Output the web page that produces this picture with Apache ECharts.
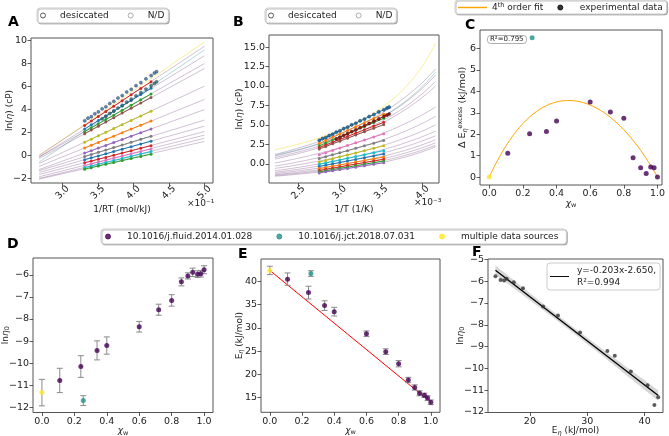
<!DOCTYPE html>
<html><head><meta charset="utf-8">
<script src="https://cdn.jsdelivr.net/npm/echarts@6/dist/echarts.min.js"></script>
<style>html,body{margin:0;padding:0;background:#fff}#c{width:669px;height:436px}</style>
</head><body><div id="c"></div>
<script>
// ================= DATA =================
const mixtureXw     = [0, 0.11, 0.24, 0.255, 0.34, 0.40, 0.60, 0.72, 0.80, 0.86, 0.90, 0.93, 0.96, 0.98, 1.0];
const mixtureSource = ['multi','fluid','fluid','jct','fluid','fluid','fluid','fluid','fluid','fluid','fluid','fluid','fluid','fluid','fluid'];
const lnEta0        = [-11.33, -10.78, -10.15, -11.69, -9.42, -9.20, -8.35, -7.58, -7.16, -6.32, -6.05, -5.89, -5.97, -5.95, -5.77];
const lnEta0Err     = [0.6, 0.55, 0.49, 0.22, 0.43, 0.39, 0.24, 0.25, 0.26, 0.18, 0.14, 0.19, 0.15, 0.15, 0.18];
const eEta          = [42.37, 40.5, 37.6, 41.7, 34.8, 33.5, 28.75, 24.9, 22.3, 18.8, 17.2, 15.95, 15.5, 14.9, 14.0];
const eEtaErr       = [0.9, 1.33, 1.37, 0.61, 1.04, 0.93, 0.61, 0.61, 0.68, 0.57, 0.57, 0.54, 0.47, 0.5, 0.5];

const excessXw      = [0, 0.11, 0.24, 0.255, 0.34, 0.40, 0.60, 0.72, 0.80, 0.855, 0.90, 0.933, 0.96, 0.98, 1.0];
const excessE       = [0, 1.11, 2.02, 6.5, 2.13, 2.62, 3.50, 3.04, 2.74, 0.90, 0.44, 0.17, 0.47, 0.44, 0];
const excessFitCoeffs = [0, 17, -25, 13, -5];   // 4th order polynomial c0..c4
const excessR2Text  = 'R²=0.795';

// measured ln(eta) (cP) at these temperatures (K)
const tempsK = [363.15, 353.15, 343.15, 333.15, 323.15, 313.15, 303.15, 293.15, 283.15];
const lnEtaMeasured = [
  null,
  [2.61, 3.00, 3.40, 3.83, 4.28, 4.76, 5.28, 5.83, 6.40],
  [2.31, 2.67, 3.05, 3.44, 3.86, 4.31, 4.79, 5.30, 5.84],
  null,
  [2.08, 2.41, 2.76, 3.13, 3.51, 3.93, 4.37, 4.84, 5.34],
  [1.90, 2.22, 2.56, 2.91, 3.29, 3.69, 4.11, 4.56, 5.04],
  [1.16, 1.43, 1.72, 2.02, 2.35, 2.69, 3.05, 3.44, 3.85],
  [0.67, 0.90, 1.15, 1.41, 1.69, 1.99, 2.31, 2.64, 3.00],
  [0.22, 0.43, 0.66, 0.89, 1.14, 1.40, 1.69, 1.99, 2.31],
  [-0.07, 0.11, 0.29, 0.49, 0.70, 0.92, 1.16, 1.42, 1.69],
  [-0.35, -0.19, -0.02, 0.16, 0.36, 0.56, 0.78, 1.01, 1.26],
  [-0.62, -0.47, -0.31, -0.15, 0.03, 0.22, 0.42, 0.64, 0.87],
  [-0.86, -0.71, -0.56, -0.40, -0.22, -0.04, 0.16, 0.36, 0.58],
  [-1.04, -0.90, -0.75, -0.59, -0.43, -0.25, -0.06, 0.14, 0.35],
  [-1.17, -1.04, -0.90, -0.75, -0.60, -0.43, -0.25, -0.07, 0.13]
];
// densely sampled data sets (mixture 0 and mixture 3)
const tempsDense0   = [363, 358, 353, 348, 343, 338, 333, 328, 323, 318, 313, 308, 303, 298, 293, 288, 283, 280, 278];
const lnEtaDense0   = [3.02, 3.25, 3.38, 3.63, 3.80, 4.06, 4.24, 4.52, 4.71, 5.00, 5.21, 5.52, 5.75, 6.07, 6.33, 6.66, 6.94, 7.16, 7.28];
const tempsDense3   = [338, 333, 328, 323, 318, 313, 308, 303, 298, 293, 288, 283, 280, 278];
const lnEtaDense3   = [3.20, 3.41, 3.66, 3.88, 4.13, 4.37, 4.64, 4.90, 5.19, 5.47, 5.77, 6.08, 6.26, 6.40];

// VFT fit curves (panel B): ln(eta) read at the hot and cold ends of the curves
const fitTempHot  = 450.5, fitTempCold = 240.5, fitTempMid = 323;
const vftLnEtaHot  = [1.8, 1.2, 1.0, 1.1, 0.8, 0.6, 0.1, -0.3, -0.6, -0.9, -1.1, -1.25, -1.4, -1.5, -1.6];
const vftLnEtaCold = [15.5, 12.2, 11.4, 11.8, 10.6, 10.0, 7.3, 6.1, 5.0, 4.2, 3.6, 3.1, 2.7, 2.4, 2.2];

// panel F regression
const fitSlopeF = -0.203, fitInterceptF = -2.650, fitR2F = '0.994';

// tick labels
const ticksAx = [0.30, 0.35, 0.40, 0.45, 0.50];
const ticksAy = [-2, 0, 2, 4, 6, 8, 10];
const ticksBx = [0.0025, 0.0030, 0.0035, 0.0040];
const ticksBy = [-2.5, 0, 2.5, 5, 7.5, 10, 12.5, 15];
const ticksCx = [0, 0.2, 0.4, 0.6, 0.8, 1.0];
const ticksCy = [0, 1, 2, 3, 4, 5, 6];
const ticksDx = [0, 0.2, 0.4, 0.6, 0.8, 1.0];
const ticksDy = [-12, -11, -10, -9, -8, -7, -6];
const ticksEy = [15, 20, 25, 30, 35, 40];
const ticksFx = [20, 30, 40];
const ticksFy = [-12, -11, -10, -9, -8, -7, -6, -5];

const sourceNames = {fluid:'10.1016/j.fluid.2014.01.028', jct:'10.1016/j.jct.2018.07.031', multi:'multiple data sources'};

// ================= STYLE =================
const R = 0.008314;
const FONT = 'DejaVu Sans';
const srcColor = {fluid:'#440154', jct:'#21918c', multi:'#fde725'};
const thinColor = {fluid:'rgba(68,1,84,0.28)', jct:'rgba(33,145,140,0.38)', multi:'rgba(240,220,30,0.5)'};
const colorsA = ['#2f6ea8','#d62728','#1f77b4','#236f80','#2ca02c','#8c564b','#bcbd22','#ff7f0e','#9467bd','#7f7f7f','#1f77b4','#d62728','#e377c2','#17becf','#2ca02c'];
const colorsB = ['#1f77b4','#ff7f0e','#2ca02c','#a01515','#d62728','#8c564b','#e377c2','#7f7f7f','#bcbd22','#17becf','#1f77b4','#ff7f0e','#d62728','#2ca02c','#9467bd'];

const rich = {
  a:{fontSize:9, fontFamily:FONT, color:'#222'},
  i:{fontSize:9, fontFamily:FONT, fontStyle:'italic', color:'#222'},
  s:{fontSize:6.5, fontFamily:FONT, color:'#222', verticalAlign:'bottom', padding:[4,0,0,0]},
  si:{fontSize:6.5, fontFamily:FONT, fontStyle:'italic', color:'#222', verticalAlign:'bottom', padding:[4,0,0,0]},
  p:{fontSize:6.5, fontFamily:FONT, color:'#222', verticalAlign:'top', padding:[0,0,5,0]},
  b:{fontSize:9.5, fontFamily:FONT, color:'#222'}
};

function axis(gi, min, max, ticks, fmt, extra) {
  return Object.assign({
    type:'value', gridIndex:gi, min:min, max:max, scale:true,
    axisLine:{show:false, onZero:false}, splitLine:{show:false},
    axisTick:{show:true, length:3.5, lineStyle:{color:'#333', width:0.8}, customValues:ticks},
    axisLabel:{customValues:ticks, formatter:fmt, fontSize:9.5, fontFamily:FONT, color:'#222', margin:4},
    nameLocation:'middle', nameMoveOverlap:false,
    nameTextStyle:{fontSize:9, fontFamily:FONT, color:'#222', rich:rich}
  }, extra || {});
}
const f1 = v => v.toFixed(1);
const fm = v => (v < 0 ? '\u2212' + Math.abs(v) : '' + v);
const fm1 = v => (v < 0 ? '\u2212' + Math.abs(v).toFixed(1) : v.toFixed(1));

const gridBase = {show:true, borderColor:'#555', borderWidth:1, backgroundColor:'#fff', containLabel:false, outerBoundsMode:'none'};
const grids = [
  Object.assign({left:31, top:38, width:182, height:145}, gridBase),
  Object.assign({left:269, top:35, width:170, height:148}, gridBase),
  Object.assign({left:480, top:30, width:182, height:155}, gridBase),
  Object.assign({left:33, top:258, width:180, height:154.5}, gridBase),
  Object.assign({left:261, top:259, width:179, height:153.3}, gridBase),
  Object.assign({left:488, top:259, width:175, height:153.5}, gridBase)
];

const rotLabel = (ticks, fmt) => ({customValues:ticks, formatter:fmt, rotate:45, align:'center', verticalAlign:'middle', fontSize:9.5, fontFamily:FONT, color:'#222', margin:9.5});
const xAxes = [
  axis(0, 0.2556, 0.5122, ticksAx, null, {name:'1/RT (mol/kJ)', nameGap:22, axisLabel:rotLabel(ticksAx, v => (v*10).toFixed(1))}),
  axis(1, 0.002147, 0.004199, ticksBx, null, {name:'1/T (1/K)', nameGap:22, axisLabel:rotLabel(ticksBx, v => (v*1000).toFixed(1))}),
  axis(2, -0.055, 1.027, ticksCx, f1, {name:'{i|χ}{s|w}', nameGap:13}),
  axis(3, -0.055, 1.055, ticksDx, f1, {name:'{i|χ}{s|w}', nameGap:13}),
  axis(4, -0.055, 1.057, ticksDx, f1, {name:'{i|χ}{s|w}', nameGap:13}),
  axis(5, 12.7, 43.2, ticksFx, fm, {name:'{a|E}{si|η}{a| (kJ/mol)}', nameGap:13})
];
const yAxes = [
  axis(0, -2.37, 10.2, ticksAy, fm, {name:'{a|ln(}{i|η}{a|) (cP)}', nameGap:17}),
  axis(1, -2.47, 16.55, ticksBy, fm1, {name:'{a|ln(}{i|η}{a|) (cP)}', nameGap:25}),
  axis(2, -0.37, 6.86, ticksCy, fm, {name:'{b|Δ E}{si|η}{p|excess}{b| (kJ/mol)}', nameGap:11}),
  axis(3, -12.23, -5.24, ticksDy, fm, {name:'{a|ln}{i|η}{s|0}', nameGap:22}),
  axis(4, 11.85, 44.83, ticksEy, fm, {name:'{a|E}{si|η}{a| (kJ/mol)}', nameGap:16}),
  axis(5, -12.03, -4.98, ticksFy, fm, {name:'{a|ln}{i|η}{s|0}', nameGap:22})
];

const series = [];
const invRT = T => 1 / (R * T);

// ---- Panel A : Arrhenius fit lines + measured data ----
mixtureXw.forEach((x, i) => {
  series.push({type:'line', xAxisIndex:0, yAxisIndex:0, silent:true, symbol:'none', z:1,
    lineStyle:{width:0.9, color:thinColor[mixtureSource[i]]},
    data:[fitTempHot, fitTempCold].map(T => [invRT(T), lnEta0[i] + eEta[i] * invRT(T)])});
});
lnEtaMeasured.forEach((vals, i) => {
  if (!vals) return;
  series.push({type:'line', xAxisIndex:0, yAxisIndex:0, symbol:'circle', symbolSize:3, z:3,
    itemStyle:{color:colorsA[i]}, lineStyle:{width:1, color:colorsA[i]},
    data:tempsK.map((T, j) => [invRT(T), vals[j]])});
});
[[tempsDense3, lnEtaDense3, 3], [tempsDense0, lnEtaDense0, 0]].forEach(([ts, vs, i]) => {
  series.push({type:'scatter', xAxisIndex:0, yAxisIndex:0, symbol:'circle', symbolSize:3.2, z:4,
    itemStyle:{color:colorsA[i], borderColor:'#222', borderWidth:0.4},
    data:ts.map((T, j) => [invRT(T), vs[j]])});
});

// ---- Panel B : VFT fits + measured data ----
function vftThrough(T1, y1, T2, y2, T3, y3) {
  const r = (y1 - y2) / (y3 - y2);
  const g = T0 => (1/(T1-T0) - 1/(T2-T0)) / (1/(T3-T0) - 1/(T2-T0));
  let lo = 0, hi = T3 - 1;
  for (let k = 0; k < 80; k++) { const m = (lo + hi) / 2; if (g(m) < r) lo = m; else hi = m; }
  const T0 = (lo + hi) / 2;
  const B = (y3 - y2) / (1/(T3-T0) - 1/(T2-T0));
  const A = y2 - B / (T2 - T0);
  return T => A + B / (T - T0);
}
mixtureXw.forEach((x, i) => {
  let mid;
  if (i === 0) mid = lnEtaDense0[tempsDense0.indexOf(fitTempMid)];
  else if (i === 3) mid = lnEtaDense3[tempsDense3.indexOf(fitTempMid)];
  else mid = lnEtaMeasured[i][4];
  const f = vftThrough(fitTempHot, vftLnEtaHot[i], fitTempMid, mid, fitTempCold, vftLnEtaCold[i]);
  const pts = [];
  const n = 60;
  for (let k = 0; k <= n; k++) {
    const inv = 1/fitTempHot + k * (1/fitTempCold - 1/fitTempHot) / n;
    pts.push([inv, f(1/inv)]);
  }
  series.push({type:'line', xAxisIndex:1, yAxisIndex:1, silent:true, symbol:'none', z:1,
    lineStyle:{width:0.9, color:thinColor[mixtureSource[i]]}, data:pts});
});
lnEtaMeasured.forEach((vals, i) => {
  if (!vals) return;
  series.push({type:'line', xAxisIndex:1, yAxisIndex:1, symbol:'circle', symbolSize:3, z:3,
    itemStyle:{color:colorsB[i]}, lineStyle:{width:1, color:colorsB[i]},
    data:tempsK.map((T, j) => [1/T, vals[j]])});
});
[[tempsDense3, lnEtaDense3, 3], [tempsDense0, lnEtaDense0, 0]].forEach(([ts, vs, i]) => {
  series.push({type:'line', xAxisIndex:1, yAxisIndex:1, symbol:'circle', symbolSize:3.2, z:4,
    itemStyle:{color:colorsB[i], borderColor:'#222', borderWidth:0.4}, lineStyle:{width:1, color:colorsB[i]},
    data:ts.map((T, j) => [1/T, vs[j]])});
});
// legend dummies for A/B
series.push({name:'desiccated', type:'scatter', xAxisIndex:0, yAxisIndex:0, data:[], itemStyle:{color:'rgba(0,0,0,0)', borderColor:'#333', borderWidth:1}});
series.push({name:'N/D', type:'scatter', xAxisIndex:0, yAxisIndex:0, data:[], itemStyle:{color:'rgba(0,0,0,0)', borderColor:'#999', borderWidth:1}});

// ---- Panel C ----
const polyPts = [];
for (let k = 0; k <= 100; k++) {
  const x = k / 100;
  polyPts.push([x, excessFitCoeffs.reduce((s, c, p) => s + c * Math.pow(x, p), 0)]);
}
series.push({name:'4th order fit', type:'line', xAxisIndex:2, yAxisIndex:2, symbol:'none', z:2,
  itemStyle:{color:'#ffa500'}, lineStyle:{width:1, color:'#ffa500'}, data:polyPts});
['fluid','jct','multi'].forEach(src => {
  series.push({name:sourceNames[src], type:'scatter', xAxisIndex:2, yAxisIndex:2, symbolSize:5, z:3,
    itemStyle:{color:srcColor[src]},
    data:excessXw.map((x, i) => [x, excessE[i], mixtureSource[i]]).filter(d => d[2] === src).map(d => [d[0], d[1]])});
});
series.push({name:'experimental data', type:'scatter', xAxisIndex:2, yAxisIndex:2, data:[], itemStyle:{color:'#000'}});

// ---- Panels D and E: error bars + points ----
function errorBars(ai, xs, ys, errs) {
  return {type:'custom', xAxisIndex:ai, yAxisIndex:ai, silent:true, z:2,
    data:xs.map((x, i) => [x, ys[i] - errs[i], ys[i] + errs[i]]),
    encode:{x:0, y:[1, 2]},
    renderItem:(params, api) => {
      const lo = api.coord([api.value(0), api.value(1)]);
      const hi = api.coord([api.value(0), api.value(2)]);
      const cap = 3, st = {stroke:'#8a8a8a', lineWidth:1};
      return {type:'group', children:[
        {type:'line', shape:{x1:lo[0], y1:lo[1], x2:hi[0], y2:hi[1]}, style:st},
        {type:'line', shape:{x1:lo[0]-cap, y1:lo[1], x2:lo[0]+cap, y2:lo[1]}, style:st},
        {type:'line', shape:{x1:hi[0]-cap, y1:hi[1], x2:hi[0]+cap, y2:hi[1]}, style:st}
      ]};
    }};
}
series.push(errorBars(3, mixtureXw, lnEta0, lnEta0Err));
series.push(errorBars(4, mixtureXw, eEta, eEtaErr));
// E: ideal mixing line between pure components
const last = mixtureXw.length - 1;
series.push({type:'line', xAxisIndex:4, yAxisIndex:4, symbol:'none', silent:true, z:1,
  lineStyle:{width:1, color:'#ff0000'}, data:[[mixtureXw[0], eEta[0]], [mixtureXw[last], eEta[last]]]});
['fluid','jct','multi'].forEach(src => {
  [[3, lnEta0], [4, eEta]].forEach(([ai, ys]) => {
    series.push({name:sourceNames[src], type:'scatter', xAxisIndex:ai, yAxisIndex:ai, symbolSize:5, z:3,
      itemStyle:{color:srcColor[src]},
      data:mixtureXw.map((x, i) => [x, ys[i], mixtureSource[i]]).filter(d => d[2] === src).map(d => [d[0], d[1]])});
  });
});

// ---- Panel F ----
const fx = eEta, fy = lnEta0, n = fx.length;
const xbar = fx.reduce((a, b) => a + b, 0) / n;
const sxx = fx.reduce((a, b) => a + (b - xbar) * (b - xbar), 0);
const sres = Math.sqrt(fx.reduce((a, x, i) => { const r = fy[i] - (fitSlopeF * x + fitInterceptF); return a + r * r; }, 0) / (n - 2));
const tval = 2.16;
const xLo = Math.min(...fx), xHi = Math.max(...fx);
const band = [];
for (let k = 0; k <= 50; k++) {
  const x = xLo + (xHi - xLo) * k / 50;
  const h = tval * sres * Math.sqrt(1/n + (x - xbar) * (x - xbar) / sxx);
  band.push([x, fitSlopeF * x + fitInterceptF, h]);
}
series.push({type:'custom', xAxisIndex:5, yAxisIndex:5, silent:true, z:1, data:[[0]],
  renderItem:(params, api) => {
    const up = band.map(b => api.coord([b[0], b[1] + b[2]]));
    const dn = band.map(b => api.coord([b[0], b[1] - b[2]])).reverse();
    return {type:'polygon', shape:{points:up.concat(dn)}, style:{fill:'rgba(120,120,120,0.3)', stroke:'none'}};
  }});
series.push({name:'fitF', type:'line', xAxisIndex:5, yAxisIndex:5, symbol:'none', z:2,
  itemStyle:{color:'#000'}, lineStyle:{width:1.3, color:'#000'},
  data:[[xLo, fitSlopeF * xLo + fitInterceptF], [xHi, fitSlopeF * xHi + fitInterceptF]]});
series.push({type:'scatter', xAxisIndex:5, yAxisIndex:5, symbolSize:4, z:3, itemStyle:{color:'#333'},
  data:fx.map((x, i) => [x, fy[i]])});

// ================= LEGENDS / TITLES =================
const legendBase = {selectedMode:false, orient:'horizontal', backgroundColor:'#fff', borderColor:'#ccc', borderWidth:1, borderRadius:3,
  shadowColor:'rgba(0,0,0,0.25)', shadowOffsetX:1, shadowOffsetY:1, shadowBlur:0,
  textStyle:{fontSize:9, fontFamily:FONT, color:'#222'}};
const mkLegend = o => Object.assign({}, legendBase, o);
const circ = (c, b) => ({icon:'circle', itemStyle:{color:c, borderColor:b || c, borderWidth:1}});
const lineIcon = c => ({icon:'path://M0,0L40,0L40,2L0,2Z', itemStyle:{color:c, borderWidth:0}});
const abData = () => [Object.assign({name:'desiccated'}, circ('rgba(0,0,0,0)', '#333')), Object.assign({name:'N/D'}, circ('rgba(0,0,0,0)', '#999'))];
const legends = [
  mkLegend({left:37, top:8, padding:[3,4,3,3], itemGap:19, itemWidth:18, itemHeight:5,
    textStyle:{fontSize:9, fontFamily:FONT, color:'#222', padding:[0,0,0,3]}, data:abData()}),
  mkLegend({left:265, top:8, padding:[3,4,3,3], itemGap:19, itemWidth:18, itemHeight:5,
    textStyle:{fontSize:9, fontFamily:FONT, color:'#222', padding:[0,0,0,3]}, data:abData()}),
  mkLegend({left:455, top:0, padding:[2,4,2,3], itemGap:14, itemWidth:29, itemHeight:5,
    formatter:name => name === '4th order fit' ? '{t|4}{u|th}{t| order fit}' : '{t|' + name + '}',
    textStyle:{fontSize:9, fontFamily:FONT, color:'#222', rich:{t:{fontSize:9, fontFamily:FONT, color:'#222'}, u:{fontSize:6.5, fontFamily:FONT, color:'#222', verticalAlign:'top', padding:[0,0,4,0]}}},
    data:[Object.assign({name:'4th order fit'}, lineIcon('#ffa500')), Object.assign({name:'experimental data'}, circ('#000'))]}),
  mkLegend({left:101, top:229, padding:[3,8,3,4], itemGap:24, itemWidth:20, itemHeight:5,
    textStyle:{fontSize:9, fontFamily:FONT, color:'#222', padding:[0,0,0,4]},
    data:['fluid','jct','multi'].map(s => Object.assign({name:sourceNames[s]}, circ(srcColor[s])))}),
  mkLegend({left:547, top:263, padding:[2,4,2,3], itemWidth:19, itemHeight:5, shadowColor:'rgba(0,0,0,0)',
    formatter:() => 'y=-0.203x-2.650,\nR²=' + fitR2F,
    textStyle:{fontSize:9, fontFamily:FONT, color:'#222', lineHeight:11.5, padding:[0,0,0,3]},
    data:[Object.assign({name:'fitF'}, lineIcon('#000'))]})
];
const letter = (t, l, tp) => ({text:t, left:l, top:tp, padding:0, textStyle:{fontSize:14, fontWeight:'bold', fontFamily:FONT, color:'#000'}});
const titles = [
  letter('A', 8, 15), letter('B', 233, 15), letter('C', 465, 18),
  letter('D', 7, 237), letter('E', 238, 247), letter('F', 472, 245),
  {text:excessR2Text, left:487, top:35, padding:[1,3], borderColor:'#999', borderWidth:0.8, borderRadius:3, backgroundColor:'#fff',
   textStyle:{fontSize:7, fontWeight:'normal', fontFamily:FONT, color:'#222'}}
];

const chart = echarts.init(document.getElementById('c'), null, {renderer:'canvas'});
chart.setOption({
  animation:false,
  backgroundColor:'#fff',
  title:titles,
  legend:legends,
  grid:grids,
  xAxis:xAxes,
  yAxis:yAxes,
  series:series,
  graphic:[
    {type:'text', left:187, top:199, style:{text:'×10⁻¹', fontSize:9, fontFamily:FONT, fill:'#222'}},
    {type:'text', left:414, top:198, style:{text:'×10⁻³', fontSize:9, fontFamily:FONT, fill:'#222'}}
  ]
});
</script></body></html>
